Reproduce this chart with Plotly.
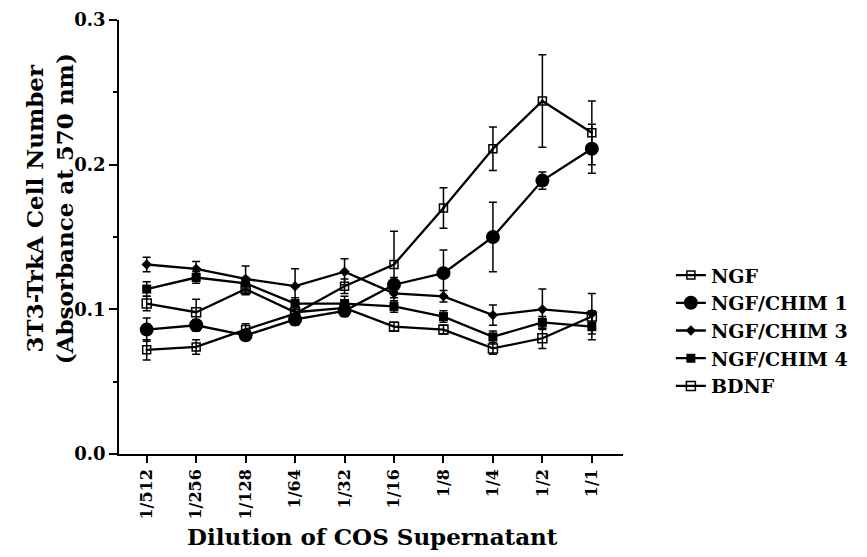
import plotly.graph_objects as go

# Dilution categories (x) and series values
dilutions = ['1/512', '1/256', '1/128', '1/64', '1/32', '1/16', '1/8', '1/4', '1/2', '1/1']

ngf = [0.072, 0.074, 0.086, 0.097, 0.116, 0.131, 0.170, 0.211, 0.244, 0.222]
ngf_err = [0.007, 0.005, 0.004, 0.005, 0.005, 0.023, 0.014, 0.015, 0.032, 0.022]

chim1 = [0.086, 0.089, 0.082, 0.093, 0.099, 0.117, 0.125, 0.150, 0.189, 0.211]
chim1_err = [0.008, 0.004, 0.003, 0.004, 0.004, 0.005, 0.016, 0.024, 0.006, 0.017]

chim3 = [0.131, 0.128, 0.121, 0.116, 0.126, 0.111, 0.109, 0.096, 0.100, 0.097]
chim3_err = [0.005, 0.005, 0.009, 0.012, 0.009, 0.005, 0.004, 0.007, 0.014, 0.014]

chim4 = [0.114, 0.122, 0.118, 0.104, 0.104, 0.102, 0.095, 0.081, 0.091, 0.088]
chim4_err = [0.005, 0.004, 0.004, 0.004, 0.005, 0.004, 0.004, 0.004, 0.004, 0.009]

bdnf = [0.104, 0.098, 0.114, 0.098, 0.101, 0.088, 0.086, 0.073, 0.080, 0.095]
bdnf_err = [0.005, 0.009, 0.004, 0.004, 0.003, 0.003, 0.003, 0.004, 0.007, 0.004]

FONT = dict(family='DejaVu Serif, Liberation Serif, serif', color='black', weight='bold')

series = [
    ('NGF', ngf, ngf_err, dict(symbol='square-open-dot', size=8, line=dict(width=1.5))),
    ('NGF/CHIM 1', chim1, chim1_err, dict(symbol='circle', size=14)),
    ('NGF/CHIM 3', chim3, chim3_err, dict(symbol='diamond', size=8)),
    ('NGF/CHIM 4', chim4, chim4_err, dict(symbol='square', size=9)),
    ('BDNF', bdnf, bdnf_err, dict(symbol='square-open', size=9, line=dict(width=1.5))),
]

x_idx = list(range(len(dilutions)))

fig = go.Figure()
for name, vals, errs, mk in series:
    fig.add_trace(go.Scatter(
        x=x_idx,
        y=vals,
        name=name,
        mode='lines+markers',
        line=dict(color='black', width=2.3),
        marker=dict(color='black', **mk),
        error_y=dict(type='data', array=errs, visible=True,
                     color='black', thickness=1.5, width=4),
    ))

# page body adds an 8px offset, so the figure is a little smaller than the window
fig.update_layout(
    width=859,
    height=549,
    paper_bgcolor='white',
    plot_bgcolor='white',
    font=dict(size=18, **FONT),
    margin=dict(l=111, r=244, t=12, b=103),
    legend=dict(
        x=1.095, y=0.284, xanchor='left', yanchor='middle',
        font=dict(size=19, **FONT),
        bgcolor='rgba(0,0,0,0)',
        tracegroupgap=0,
    ),
    annotations=[
        dict(text='Dilution of COS Supernatant', xref='paper', yref='paper',
             x=0.502, y=-0.191, xanchor='center', yanchor='middle',
             showarrow=False, font=dict(size=23, **FONT)),
        dict(text='3T3-TrkA Cell Number<br>(Absorbance at 570 nm)', xref='paper', yref='paper',
             x=-0.138, y=0.565, xanchor='center', yanchor='middle', textangle=-90,
             showarrow=False, font=dict(size=23, **FONT)),
    ],
)

fig.update_xaxes(
    range=[-0.56, 9.63],
    automargin=False,
    tickmode='array',
    tickvals=x_idx,
    ticktext=dilutions,
    tickangle=-90,
    ticks='outside',
    ticklen=7,
    tickwidth=1.5,
    tickcolor='black',
    tickfont=dict(size=16, **FONT),
    showline=True,
    linecolor='black',
    linewidth=1.5,
    showgrid=False,
    zeroline=False,
)

fig.update_yaxes(
    range=[0, 0.3],
    automargin=False,
    tickvals=[0, 0.1, 0.2, 0.3],
    ticktext=['0.0', '0.1', '0.2', '0.3'],
    ticks='outside',
    ticklen=8,
    tickwidth=1.5,
    tickcolor='black',
    ticklabeloverflow='allow',
    minor=dict(dtick=0.05, ticks='outside', ticklen=4, tickcolor='black', tickwidth=1.5),
    tickfont=dict(size=18, **FONT),
    showline=True,
    linecolor='black',
    linewidth=1.5,
    showgrid=False,
    zeroline=False,
)

fig.write_html("out.html")
